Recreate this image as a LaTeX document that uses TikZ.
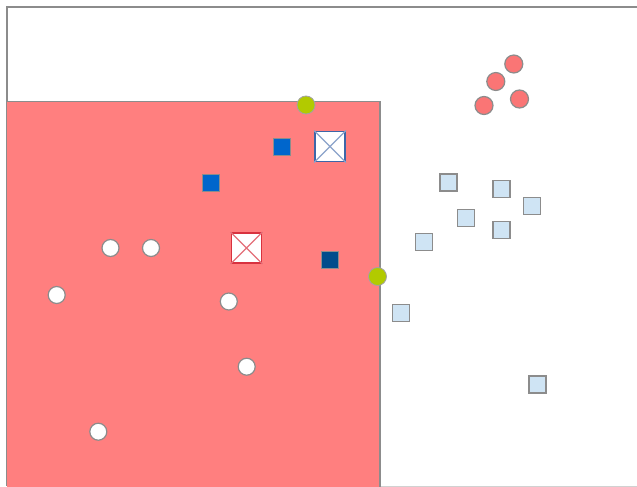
\documentclass[tikz,border=0pt]{standalone}
\definecolor{regred}{HTML}{FF7F7F}
\definecolor{frame}{HTML}{8C8C8C}
\definecolor{midblue}{HTML}{0066CC}
\definecolor{darkblue}{HTML}{004C8C}
\definecolor{paleblue}{HTML}{CFE4F4}
\definecolor{lime}{HTML}{B2CA00}
\definecolor{dotred}{HTML}{FA7575}
\definecolor{xblue}{HTML}{3D66A8}
\definecolor{xred}{HTML}{D8323F}
\tikzset{
  px/.style={x=1pt,y=-1pt},
  whitedot/.style={circle,fill=white,draw=frame,line width=1.2pt,minimum size=17pt,inner sep=0pt},
  reddot/.style={circle,fill=dotred,draw=frame,line width=1.2pt,minimum size=18pt,inner sep=0pt},
  limedot/.style={circle,fill=lime,draw=frame!80,line width=0.8pt,minimum size=18pt,inner sep=0pt},
  palesq/.style={rectangle,fill=paleblue,draw=frame,line width=1.4pt,minimum size=17pt,inner sep=0pt},
  bluesq/.style={rectangle,fill=midblue,draw=frame,line width=0.7pt,minimum size=17pt,inner sep=0pt},
  darksq/.style={rectangle,fill=darkblue,draw=frame,line width=0.7pt,minimum size=17pt,inner sep=0pt},
  xbox/.style={rectangle,fill=white,line width=1.8pt,minimum size=30pt,inner sep=0pt},
}
\begin{document}
\begin{tikzpicture}[px]
\useasboundingbox (0,0) rectangle (637,487);
\fill[white] (0,0) rectangle (637,487);
% outer frame
\draw[frame,line width=2pt] (7,486) -- (7,7) -- (640,7);
\draw[frame!40,line width=0.8pt] (7,486) -- (640,486);
% red region
\fill[regred] (7,101.5) rectangle (380,490);
\draw[frame,line width=1.5pt] (7,101.5) -- (380,101.5) -- (380,490);
% crossed squares
\node[xbox,draw=xblue] (xb) at (330,146.5) {};
\draw[xblue!60,line width=1.1pt] (xb.north west) -- (xb.south east) (xb.north east) -- (xb.south west);
\node[xbox,draw=xred] (xr) at (246.5,248) {};
\draw[xred!70,line width=1.1pt] (xr.north west) -- (xr.south east) (xr.north east) -- (xr.south west);
% blue squares
\node[bluesq] (b1) at (282.3,146.8) {};
\node[bluesq] (b2) at (211,182.7) {};
\node[darksq] (b3) at (329.5,259.7) {};
% white dots
\node[whitedot] (w1) at (110.5,248) {};
\node[whitedot] (w2) at (151,248) {};
\node[whitedot] (w3) at (56.7,295) {};
\node[whitedot] (w4) at (228.8,301.5) {};
\node[whitedot] (w5) at (246.7,366.7) {};
\node[whitedot] (w6) at (98.3,431.7) {};
% pale squares
\node[palesq] (p1) at (448.5,182.5) {};
\node[palesq] (p2) at (501.5,188.7) {};
\node[palesq] (p3) at (531.7,206) {};
\node[palesq] (p4) at (465.8,218) {};
\node[palesq] (p5) at (501.5,230) {};
\node[palesq] (p6) at (424,241.8) {};
\node[palesq] (p7) at (401,313) {};
\node[palesq] (p8) at (537.5,384.5) {};
% red dots
\node[reddot] (r1) at (513.8,64) {};
\node[reddot] (r2) at (495.8,81.5) {};
\node[reddot] (r3) at (484,105.5) {};
\node[reddot] (r4) at (519.5,99) {};
% lime dots
\node[limedot] (g1) at (306,105) {};
\node[limedot] (g2) at (377.5,276.5) {};
\end{tikzpicture}
\end{document}
